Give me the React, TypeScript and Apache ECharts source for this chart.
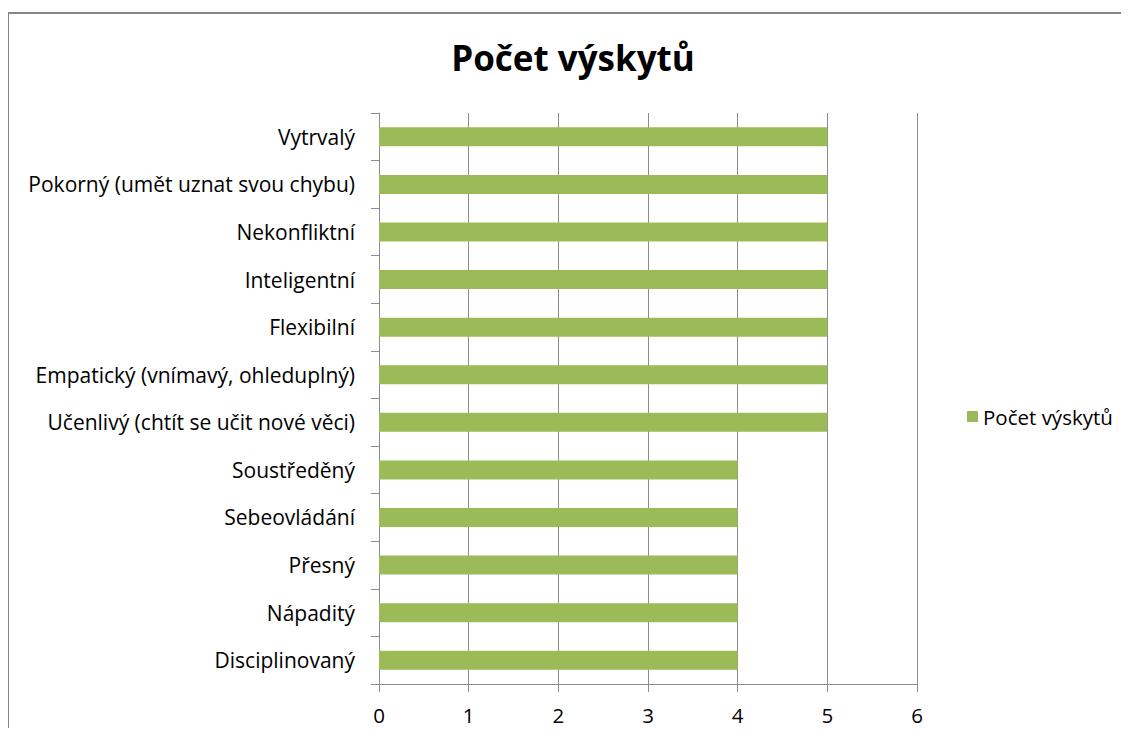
import React, { useEffect, useRef } from "react";
import * as echarts from "echarts";

const categories = [
  "Disciplinovaný",
  "Nápaditý",
  "Přesný",
  "Sebeovládání",
  "Soustředěný",
  "Učenlivý (chtít se učit nové věci)",
  "Empatický (vnímavý, ohleduplný)",
  "Flexibilní",
  "Inteligentní",
  "Nekonfliktní",
  "Pokorný (umět uznat svou chybu)",
  "Vytrvalý",
];
const values = [4, 4, 4, 4, 4, 5, 5, 5, 5, 5, 5, 5];
const seriesName = "Počet výskytů";
const titleText = "Počet výskytů";

export default function App() {
  const ref = useRef<HTMLDivElement>(null);
  useEffect(() => {
    if (!ref.current) return;
    const chart = echarts.init(ref.current, null, { renderer: "svg" });
    const font = "'Open Sans', sans-serif";
    chart.setOption({
      animation: false,
      backgroundColor: "#ffffff",
      textStyle: { fontFamily: font },
      title: {
        text: titleText,
        left: 568,
        top: 35,
        textAlign: "center",
        textStyle: { fontSize: 35, fontWeight: "bold", color: "#000", fontFamily: font },
      },
      legend: {
        data: [seriesName],
        left: 962,
        top: 401,
        orient: "vertical",
        icon: "rect",
        itemWidth: 11,
        itemHeight: 11,
        itemGap: 6,
        textStyle: { fontSize: 20.5, color: "#000", fontFamily: font },
      },
      grid: { left: 379, right: 212, top: 113, bottom: 52, containLabel: false },
      xAxis: {
        type: "value",
        min: 0,
        max: 6,
        interval: 1,
        axisLine: { show: true, lineStyle: { color: "#8c8c8c", width: 1 } },
        axisTick: { show: true, length: 8, lineStyle: { color: "#8c8c8c" } },
        axisLabel: { fontSize: 20.5, color: "#000", margin: 20, fontFamily: font },
        splitLine: { show: true, lineStyle: { color: "#8c8c8c", width: 1 } },
      },
      yAxis: {
        type: "category",
        data: categories,
        boundaryGap: true,
        axisLine: { show: true, lineStyle: { color: "#8c8c8c", width: 1 } },
        axisTick: { show: true, length: 8, lineStyle: { color: "#8c8c8c" } },
        axisLabel: { fontSize: 21, color: "#000", margin: 24, fontFamily: font },
        splitLine: { show: false },
      },
      series: [
        {
          name: seriesName,
          type: "bar",
          data: values,
          barWidth: 19,
          itemStyle: { color: "#9BBB59" },
        },
      ],
      graphic: [
        {
          type: "line",
          shape: { x1: 8, y1: 13, x2: 1140, y2: 13 },
          style: { stroke: "#868686", lineWidth: 2 },
        },
        {
          type: "line",
          shape: { x1: 8, y1: 13, x2: 8, y2: 740 },
          style: { stroke: "#868686", lineWidth: 2 },
        },
      ],
    });
    return () => chart.dispose();
  }, []);
  return <div ref={ref} style={{ width: 1129, height: 736, margin: -8 }} />;
}
